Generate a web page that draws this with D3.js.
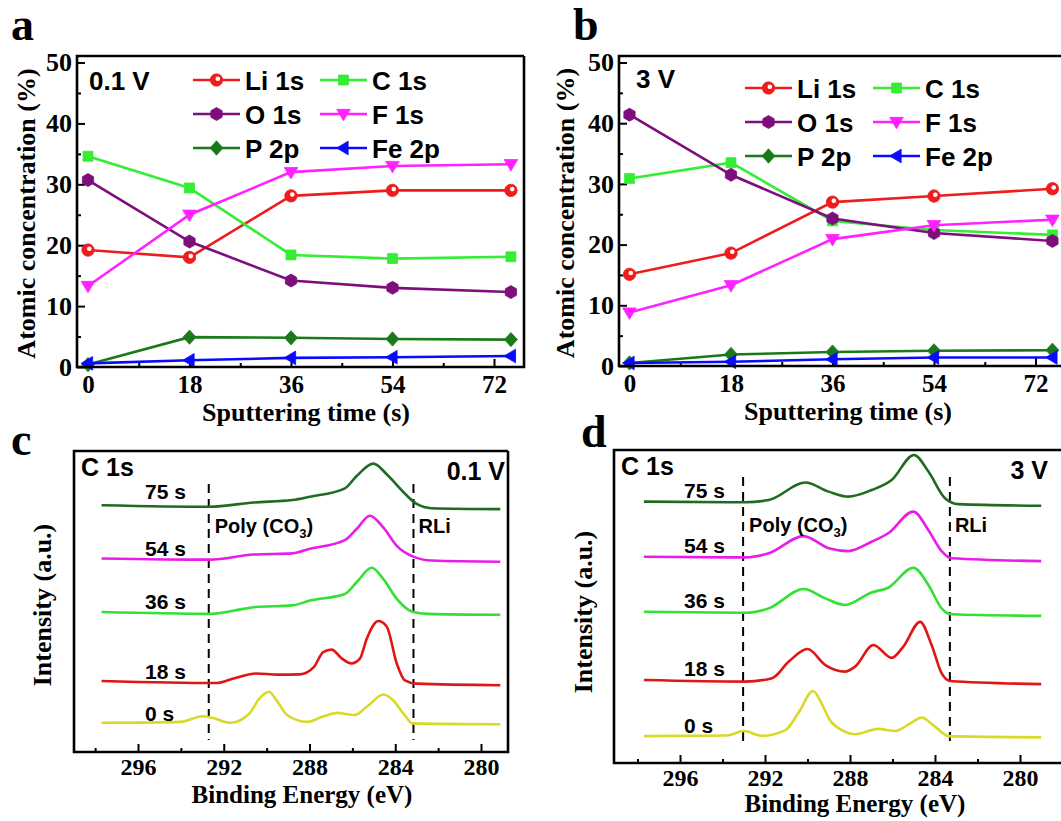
<!DOCTYPE html>
<html><head><meta charset="utf-8">
<script src="https://cdn.jsdelivr.net/npm/d3@7/dist/d3.min.js"></script>
<style>body{margin:0;background:#fff}svg{display:block}</style>
</head><body>
<svg id="fig" width="1061" height="821"></svg>
<script>
// ---------- data: atomic concentration vs sputtering time ----------
const timeTicks = [0, 18, 36, 54, 72];
const timeMinor = [9, 27, 45, 63];
const sputterTimes = [0, 18, 36, 54, 75];
const concTicks = [0, 10, 20, 30, 40, 50];
const concMinor = [5, 15, 25, 35, 45];
const seriesNames = ["Li 1s", "C 1s", "O 1s", "F 1s", "P 2p", "Fe 2p"];

// panel a, 0.1 V
const li_01V = [19.2, 18.0, 28.1, 29.0, 29.0];
const c_01V  = [34.6, 29.4, 18.4, 17.8, 18.1];
const o_01V  = [30.7, 20.6, 14.2, 13.0, 12.3];
const f_01V  = [13.3, 25.0, 32.0, 33.0, 33.3];
const p_01V  = [0.4, 4.9, 4.8, 4.6, 4.5];
const fe_01V = [0.6, 1.1, 1.5, 1.6, 1.8];

// panel b, 3 V
const li_3V = [15.1, 18.6, 27.0, 28.0, 29.2];
const c_3V  = [30.9, 33.5, 23.9, 22.4, 21.6];
const o_3V  = [41.4, 31.5, 24.3, 21.9, 20.6];
const f_3V  = [8.8, 13.3, 20.9, 23.2, 24.1];
const p_3V  = [0.5, 1.9, 2.3, 2.5, 2.6];
const fe_3V = [0.5, 0.7, 1.1, 1.4, 1.4];

// ---------- data: C 1s spectra (binding energy eV, intensity a.u.) ----------
const energyTicks = [296, 292, 288, 284, 280];
const energyMinor = [298, 294, 290, 286, 282];
const sampleLabels = ["0 s", "18 s", "36 s", "54 s", "75 s"];

// panel c, 0.1 V
const spec01V_0s = [[297.7,9.7],[294.0,10.0],[293.0,11.9],[292.5,11.3],[291.7,9.7],[290.8,12.8],[290.33,17.8],[289.9,20.0],[289.5,16.8],[289.05,12.3],[288.1,10.0],[287.4,11.7],[286.7,13.0],[285.9,12.3],[285.3,15.2],[284.55,19.1],[284.1,17.2],[283.6,12.6],[283.2,9.5],[279.1,9.2]];
const spec01V_18s = [[297.7,23.6],[292.35,22.9],[291.5,24.5],[290.5,26.1],[289.5,25.7],[288.45,25.8],[287.8,28.2],[287.36,33.2],[286.97,34.0],[286.5,31.1],[286.05,29.4],[285.65,31.0],[285.33,37.6],[284.79,43.5],[284.4,41.7],[283.93,29.4],[283.55,23.8],[283.0,22.7],[279.1,22.2]];
const spec01V_36s = [[297.7,46.5],[292.66,45.9],[291.5,47.0],[290.6,48.1],[288.8,48.7],[287.98,50.3],[286.35,52.5],[285.8,56.4],[285.1,61.2],[284.56,57.5],[283.93,50.9],[283.16,46.5],[282.5,45.9],[279.1,45.6]];
const spec01V_54s = [[297.7,64.3],[292.66,63.9],[290.6,65.6],[288.8,66.0],[287.98,67.5],[286.35,70.4],[285.8,74.1],[285.18,78.5],[284.56,74.6],[283.93,68.5],[283.16,64.9],[282.3,63.6],[279.1,63.2]];
const spec01V_75s = [[297.7,82.0],[292.66,81.5],[290.6,82.9],[288.8,83.7],[287.98,84.8],[286.35,87.6],[285.8,91.7],[285.02,95.8],[284.4,92.3],[283.6,86.2],[283.0,82.4],[282.3,81.0],[279.1,80.7]];

// panel d, 3 V
const spec3V_0s = [[297.7,8.6],[293.8,8.8],[293.0,10.2],[292.14,8.7],[291.04,10.5],[290.4,16.3],[289.74,23.0],[289.3,18.5],[289.0,14.3],[288.3,10.2],[287.76,9.2],[286.67,10.9],[285.88,10.2],[285.2,12.5],[284.63,14.5],[284.0,11.6],[283.37,8.6],[279.0,8.2]];
const spec3V_18s = [[297.7,26.5],[292.93,26.0],[291.67,27.1],[290.88,32.4],[290.0,36.4],[289.16,31.3],[288.24,29.2],[287.76,30.8],[286.9,37.7],[286.04,33.6],[285.49,37.2],[284.7,45.1],[284.16,37.7],[283.69,28.7],[283.29,26.2],[279.0,25.2]];
const spec3V_36s = [[297.7,48.3],[292.93,48.0],[291.83,49.4],[290.18,55.6],[289.16,52.6],[288.24,50.5],[286.98,54.5],[286.2,56.0],[285.02,62.4],[284.31,56.9],[283.69,49.4],[283.22,47.5],[279.0,47.0]];
const spec3V_54s = [[297.7,65.9],[292.93,65.7],[291.83,67.0],[290.18,72.5],[289.0,68.6],[288.08,67.7],[286.98,70.7],[286.2,73.4],[285.02,80.3],[284.31,74.4],[283.69,67.7],[283.22,65.4],[279.0,64.5]];
const spec3V_75s = [[297.7,83.5],[292.93,83.3],[291.83,84.0],[290.1,89.6],[289.0,86.7],[288.08,85.1],[286.98,87.2],[286.04,90.4],[284.99,98.4],[284.31,93.1],[283.53,84.6],[282.9,82.7],[279.0,82.2]];

// ---------- drawing ----------
const svg = d3.select("#fig");
const SERIF = "'Liberation Serif','Times New Roman',serif";
const SANS = "'Liberation Sans',Arial,sans-serif";

const seriesColors = ["#ee1c1c", "#33ee33", "#7d0f7d", "#ff22ff", "#1a7a1a", "#0a0aff"];
const seriesMarkers = ["circle", "square", "hexagon", "tridown", "diamond", "trileft"];
const specColors = ["#d9d92a", "#e01515", "#33e033", "#e81ee8", "#1f6b1f"];

function markerPath(type, s) {
  const p = d3.path();
  if (type === "square") { p.rect(-s*0.8, -s*0.8, s*1.6, s*1.6); }
  else if (type === "hexagon") {
    for (let k = 0; k < 6; k++) { const a = Math.PI/6 + k*Math.PI/3; const px = s*1.05*Math.cos(a), py = s*1.05*Math.sin(a); k ? p.lineTo(px,py) : p.moveTo(px,py); }
    p.closePath();
  } else if (type === "tridown") { p.moveTo(-s*1.1, -s*0.75); p.lineTo(s*1.1, -s*0.75); p.lineTo(0, s*1.1); p.closePath(); }
  else if (type === "diamond") { p.moveTo(0, -s*1.15); p.lineTo(s*1.05, 0); p.lineTo(0, s*1.15); p.lineTo(-s*1.05, 0); p.closePath(); }
  else if (type === "trileft") { p.moveTo(-s*1.1, 0); p.lineTo(s*0.75, -s*1.1); p.lineTo(s*0.75, s*1.1); p.closePath(); }
  else { p.arc(0, 0, s, 0, 2*Math.PI); }
  return p.toString();
}
function drawMarker(g, type, color, cx, cy) {
  const s = 6.2;
  g.append("path").attr("d", markerPath(type, s)).attr("transform", `translate(${cx},${cy})`)
    .attr("fill", color).attr("stroke", color).attr("stroke-width", 0.8);
  if (type === "circle") {
    g.append("circle").attr("cx", cx + 1.3).attr("cy", cy - 1.3).attr("r", 2.3).attr("fill", "#fff");
  }
}

function concPanel(cfg) {
  const g = svg.append("g");
  const x = d3.scaleLinear().domain([0, 72]).range([cfg.x0, cfg.x72]);
  const y = d3.scaleLinear().domain([0, 50]).range([cfg.bottom, cfg.y50]);

  g.append("g").attr("transform", `translate(0,${cfg.bottom})`)
    .call(d3.axisBottom(x).tickValues(timeMinor).tickSizeInner(-4).tickSizeOuter(0).tickFormat(""))
    .call(a => a.select(".domain").remove()).selectAll("line").attr("stroke-width", 2);
  g.append("g").attr("transform", `translate(${cfg.left},0)`)
    .call(d3.axisLeft(y).tickValues(concMinor).tickSizeInner(-4).tickSizeOuter(0).tickFormat(""))
    .call(a => a.select(".domain").remove()).selectAll("line").attr("stroke-width", 2);
  const xa = g.append("g").attr("transform", `translate(0,${cfg.bottom})`)
    .call(d3.axisBottom(x).tickValues(timeTicks).tickSizeInner(-8).tickSizeOuter(0).tickPadding(8));
  xa.select(".domain").remove();
  xa.selectAll("line").attr("stroke-width", 2);
  xa.selectAll("text").attr("font-family", SERIF).attr("font-weight", "bold").attr("font-size", 25).attr("fill", "#000");
  const ya = g.append("g").attr("transform", `translate(${cfg.left},0)`)
    .call(d3.axisLeft(y).tickValues(concTicks).tickSizeInner(-8).tickSizeOuter(0).tickPadding(5));
  ya.select(".domain").remove();
  ya.selectAll("line").attr("stroke-width", 2);
  ya.selectAll("text").attr("font-family", SERIF).attr("font-weight", "bold").attr("font-size", 26).attr("fill", "#000");

  const line = d3.line().x(d => x(d[0])).y(d => y(d[1]));
  cfg.series.forEach((vals, i) => {
    const pts = sputterTimes.map((t, j) => [t, vals[j]]);
    g.append("path").datum(pts).attr("d", line).attr("fill", "none")
      .attr("stroke", seriesColors[i]).attr("stroke-width", 2.6);
    pts.forEach(p => drawMarker(g, seriesMarkers[i], seriesColors[i], x(p[0]), y(p[1])));
  });

  g.append("path").attr("d", `M${cfg.right},${cfg.top}H${cfg.left}V${cfg.bottom}H${cfg.right}V${cfg.top}`)
    .attr("fill", "none").attr("stroke", "#000").attr("stroke-width", 2.6);

  seriesNames.forEach((name, i) => {
    const col = i % 2, row = Math.floor(i / 2);
    const lx = cfg.legX[col], ly = cfg.legY[row];
    g.append("line").attr("x1", lx).attr("x2", lx + 47).attr("y1", ly).attr("y2", ly)
      .attr("stroke", seriesColors[i]).attr("stroke-width", 2.6);
    drawMarker(g, seriesMarkers[i], seriesColors[i], lx + 23.5, ly);
    g.append("text").attr("x", lx + 52).attr("y", ly + 9.5).text(name)
      .attr("font-family", SANS).attr("font-weight", "bold").attr("font-size", 26);
  });
  g.append("text").attr("x", cfg.voltX).attr("y", cfg.voltY).text(cfg.volt)
    .attr("font-family", SANS).attr("font-weight", "bold").attr("font-size", 26);

  g.append("text").attr("transform", `translate(${cfg.yTitleX},${(cfg.top + cfg.bottom) / 2 + 2}) rotate(-90)`)
    .attr("text-anchor", "middle").text("Atomic concentration (%)")
    .attr("font-family", SERIF).attr("font-weight", "bold").attr("font-size", 26);
  g.append("text").attr("x", cfg.xTitleX).attr("y", cfg.bottom + 54).attr("text-anchor", "middle")
    .text("Sputtering time (s)").attr("font-family", SERIF).attr("font-weight", "bold").attr("font-size", 26);
  g.append("text").attr("x", cfg.letterX).attr("y", cfg.letterY).text(cfg.letter)
    .attr("font-family", SERIF).attr("font-weight", "bold").attr("font-size", 46);
}

function specPanel(cfg) {
  const g = svg.append("g");
  const x = d3.scaleLinear().domain([296, 280]).range([cfg.x296, cfg.x280]);
  const y = d3.scaleLinear().domain([0, 100]).range([cfg.bottom, cfg.top]);

  g.append("g").attr("transform", `translate(0,${cfg.bottom})`)
    .call(d3.axisBottom(x).tickValues(energyMinor).tickSizeInner(-4).tickSizeOuter(0).tickFormat(""))
    .call(a => a.select(".domain").remove()).selectAll("line").attr("stroke-width", 2);
  const xa = g.append("g").attr("transform", `translate(0,${cfg.bottom})`)
    .call(d3.axisBottom(x).tickValues(energyTicks).tickSizeInner(-8).tickSizeOuter(0).tickPadding(6));
  xa.select(".domain").remove();
  xa.selectAll("line").attr("stroke-width", 2);
  xa.selectAll("text").attr("font-family", SERIF).attr("font-weight", "bold").attr("font-size", 24).attr("fill", "#000");

  cfg.dashE.forEach(e => {
    g.append("line").attr("x1", x(e)).attr("x2", x(e)).attr("y1", y(cfg.dashTop)).attr("y2", y(cfg.dashBottom))
      .attr("stroke", "#000").attr("stroke-width", 2).attr("stroke-dasharray", "9,6");
  });

  const line = d3.line().x(d => x(d[0])).y(d => y(d[1])).curve(d3.curveMonotoneX);
  cfg.spectra.forEach((sp, i) => {
    g.append("path").datum(sp).attr("d", line).attr("fill", "none")
      .attr("stroke", specColors[i]).attr("stroke-width", 2.6).attr("stroke-linejoin", "round");
    g.append("text").attr("x", cfg.labelX).attr("y", cfg.labelY[i]).text(sampleLabels[i])
      .attr("font-family", SANS).attr("font-weight", "bold").attr("font-size", 21);
  });

  g.append("path").attr("d", `M${cfg.right},${cfg.top}H${cfg.left}V${cfg.bottom}H${cfg.right}V${cfg.top}`)
    .attr("fill", "none").attr("stroke", "#000").attr("stroke-width", 2.6);

  g.append("text").attr("x", cfg.left + 7).attr("y", cfg.top + 25).text("C 1s")
    .attr("font-family", SANS).attr("font-weight", "bold").attr("font-size", 25);
  g.append("text").attr("x", cfg.voltX).attr("y", cfg.top + 29).attr("text-anchor", "end").text(cfg.volt)
    .attr("font-family", SANS).attr("font-weight", "bold").attr("font-size", 25);
  const poly = g.append("text").attr("x", x(cfg.dashE[0]) + 6).attr("y", cfg.annY)
    .attr("font-family", SANS).attr("font-weight", "bold").attr("font-size", 20);
  poly.append("tspan").text("Poly (CO");
  poly.append("tspan").text("3").attr("font-size", 13).attr("dy", 5);
  poly.append("tspan").text(")").attr("dy", -5);
  g.append("text").attr("x", x(cfg.dashE[1]) + 5).attr("y", cfg.annY).text("RLi")
    .attr("font-family", SANS).attr("font-weight", "bold").attr("font-size", 20);

  g.append("text").attr("transform", `translate(${cfg.yTitleX},${cfg.yTitleY}) rotate(-90)`)
    .attr("text-anchor", "middle").text("Intensity (a.u.)")
    .attr("font-family", SERIF).attr("font-weight", "bold").attr("font-size", 26);
  g.append("text").attr("x", cfg.xTitleX).attr("y", cfg.bottom + cfg.titleOffset).attr("text-anchor", "middle")
    .text("Binding Energy (eV)").attr("font-family", SERIF).attr("font-weight", "bold").attr("font-size", 25);
  g.append("text").attr("x", cfg.letterX).attr("y", cfg.letterY).text(cfg.letter)
    .attr("font-family", SERIF).attr("font-weight", "bold").attr("font-size", 46);
}

concPanel({
  left: 77, right: 524, top: 56, bottom: 367, y50: 62.5, x0: 88, x72: 494,
  series: [li_01V, c_01V, o_01V, f_01V, p_01V, fe_01V],
  legX: [193, 320], legY: [80, 114, 148],
  volt: "0.1 V", voltX: 89, voltY: 90,
  yTitleX: 35, xTitleX: 306, letter: "a", letterX: 11, letterY: 40
});
concPanel({
  left: 619, right: 1066, top: 56, bottom: 366, y50: 62.5, x0: 629.5, x72: 1035.5,
  series: [li_3V, c_3V, o_3V, f_3V, p_3V, fe_3V],
  legX: [745, 873], legY: [88, 122, 156],
  volt: "3 V", voltX: 636, voltY: 88,
  yTitleX: 574, xTitleX: 848, letter: "b", letterX: 573, letterY: 40
});
specPanel({
  left: 74, right: 508, top: 451, bottom: 752, x296: 138, x280: 481,
  spectra: [spec01V_0s, spec01V_18s, spec01V_36s, spec01V_54s, spec01V_75s],
  labelX: 145, labelY: [721, 679, 609, 556, 499],
  dashE: [292.7, 283.15], dashTop: 89, dashBottom: 4, annY: 533,
  volt: "0.1 V", voltX: 505, titleOffset: 51,
  yTitleX: 51, yTitleY: 605, xTitleX: 302, letter: "c", letterX: 11, letterY: 455
});
specPanel({
  left: 614, right: 1066, top: 450, bottom: 763, x296: 680, x280: 1020,
  spectra: [spec3V_0s, spec3V_18s, spec3V_36s, spec3V_54s, spec3V_75s],
  labelX: 684, labelY: [733, 676, 608, 553, 498],
  dashE: [293.03, 283.3], dashTop: 91.4, dashBottom: 5.1, annY: 532,
  volt: "3 V", voltX: 1048, titleOffset: 49,
  yTitleX: 592, yTitleY: 612, xTitleX: 855, letter: "d", letterX: 581, letterY: 447
});
</script>
</body></html>
